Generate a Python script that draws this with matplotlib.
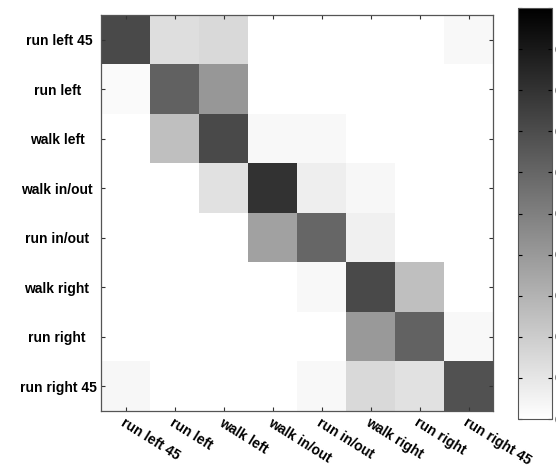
import numpy as np
import matplotlib
matplotlib.use("Agg")
import matplotlib.pyplot as plt

classes = ["run left 45", "run left", "walk left", "walk in/out",
           "run in/out", "walk right", "run right", "run right 45"]
# y labels carry the trailing blanks seen in the original
ylabels = ["run left 45 ", "run left    ", "walk left   ", "walk in/out ",
           "run in/out  ", "walk right  ", "run right   ", "run right 45"]

# confusion matrix, rows = true class, cols = predicted
conf = np.array([
    [0.71, 0.13, 0.15, 0.00, 0.00, 0.00, 0.00, 0.03],
    [0.02, 0.62, 0.41, 0.00, 0.00, 0.00, 0.00, 0.00],
    [0.00, 0.25, 0.71, 0.03, 0.03, 0.00, 0.00, 0.00],
    [0.00, 0.00, 0.12, 0.80, 0.07, 0.035, 0.00, 0.00],
    [0.00, 0.00, 0.00, 0.37, 0.60, 0.06, 0.00, 0.00],
    [0.00, 0.00, 0.00, 0.00, 0.03, 0.71, 0.25, 0.00],
    [0.00, 0.00, 0.00, 0.00, 0.00, 0.40, 0.61, 0.03],
    [0.035, 0.00, 0.00, 0.00, 0.03, 0.15, 0.12, 0.68],
])
cbar_ticks = np.arange(0, 1.01, 0.1)

plt.rcParams['font.family'] = ['Liberation Sans', 'DejaVu Sans']

fig = plt.figure(figsize=(5.56, 4.74), dpi=100)
ax = fig.add_axes([0.1817, 0.1329, 0.705, 0.835])
cax = fig.add_axes([0.9317, 0.116, 0.0612, 0.867])

im = ax.imshow(conf, cmap='gray_r', vmin=0, vmax=1, aspect='auto',
               interpolation='nearest')

n = len(classes)
ax.set_xticks(np.arange(n))
ax.set_yticks(np.arange(n))
ax.set_xticklabels(classes, rotation=-32, ha='left', va='top',
                   rotation_mode='anchor', fontsize=10, fontweight='bold')
ax.set_yticklabels(ylabels, fontsize=10, fontweight='bold')
ax.tick_params(direction='in', top=True, right=True, length=3,
               width=0.8, color='#333333', pad=3)
for s in ax.spines.values():
    s.set_color('#555555')
    s.set_linewidth(0.9)

cb = fig.colorbar(im, cax=cax)
cb.set_ticks(cbar_ticks)
cb.set_ticklabels(["%g" % t for t in cbar_ticks])
cax.tick_params(direction='in', left=True, right=True, length=3,
                width=0.8, labelsize=9, pad=2)
cb.outline.set_edgecolor('#555555')

fig.savefig("out.png", dpi=100)
